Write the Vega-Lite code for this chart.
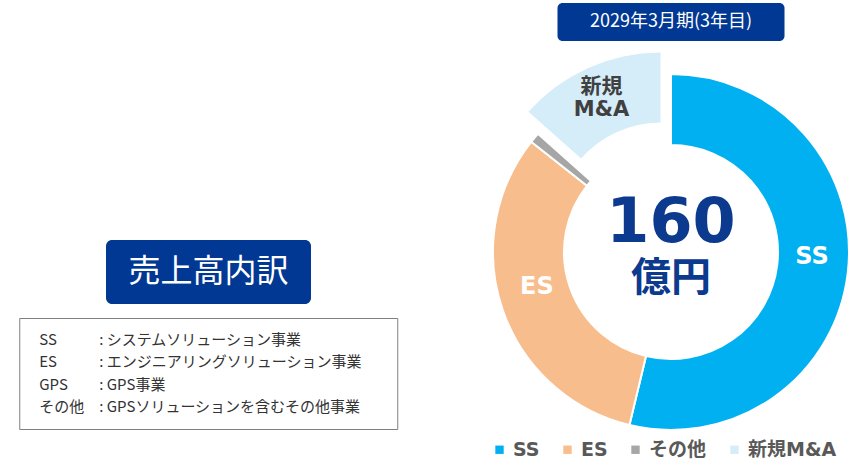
{
  "$schema": "https://vega.github.io/schema/vega-lite/v6.json",
  "background": "white",
  "padding": {"left": 18, "top": 3, "right": 0, "bottom": 0},
  "config": {"view": {"stroke": null}, "font": "Noto Sans CJK JP"},
  "spacing": 91,
  "resolve": {"scale": {"color": "independent"}, "legend": {"color": "independent"}},
  "hconcat": [
    {
      "spacing": 13,
      "center": true,
      "vconcat": [
        {
          "width": 1,
          "height": 224,
          "data": {"values": [{"t": ""}]},
          "mark": {"type": "text"},
          "encoding": {"text": {"field": "t"}}
        },
        {
          "width": 205,
          "height": 64,
          "view": {"fill": "#003893", "cornerRadius": 6, "stroke": null},
          "data": {"values": [{"t": "売上高内訳"}]},
          "mark": {"type": "text", "color": "white", "fontSize": 32, "font": "Noto Sans CJK JP"},
          "encoding": {"text": {"field": "t"}}
        },
        {
          "width": 378,
          "height": 111,
          "view": {"stroke": "#7f7f7f", "strokeWidth": 1},
          "data": {
            "values": [
              {"code": "SS", "desc": ":  システムソリューション事業"},
              {"code": "ES", "desc": ":  エンジニアリングソリューション事業"},
              {"code": "GPS", "desc": ":  GPS事業"},
              {"code": "その他", "desc": ":  GPSソリューションを含むその他事業"}
            ]
          },
          "transform": [{"fold": ["code", "desc"], "as": ["part", "txt"]}],
          "mark": {"type": "text", "align": "left", "fontSize": 15, "color": "#333333", "font": "Noto Sans CJK JP"},
          "encoding": {
            "x": {"field": "part", "type": "nominal", "axis": null, "scale": {"type": "point", "range": [20, 80], "padding": 0}},
            "y": {"field": "code", "type": "nominal", "sort": null, "axis": null, "scale": {"type": "point", "padding": 0.99}},
            "text": {"field": "txt"}
          }
        }
      ]
    },
    {
      "spacing": 26,
      "center": true,
      "bounds": "flush",
      "resolve": {"scale": {"color": "independent"}, "legend": {"color": "independent"}},
      "vconcat": [
        {
          "width": 227,
          "height": 38,
          "view": {"fill": "#003893", "cornerRadius": 5, "stroke": null},
          "data": {"values": [{"t": "2029年3月期(3年目)"}]},
          "mark": {"type": "text", "color": "white", "fontSize": 18, "font": "Noto Sans CJK JP"},
          "encoding": {"text": {"field": "t"}}
        },
        {
          "width": 362,
          "height": 370,
          "data": {
            "values": [
              {"cat": "SS", "value": 86, "label": "SS"},
              {"cat": "ES", "value": 51, "label": "ES"},
              {"cat": "その他", "value": 1.5, "label": ""},
              {"cat": "新規M&A", "value": 21.5, "label": "新規\nM&A"}
            ]
          },
          "layer": [
            {
              "transform": [
                {"stack": "value", "groupby": [], "as": ["v0", "v1"]},
                {"filter": "datum.cat !== '新規M&A'"}
              ],
              "mark": {"type": "arc", "radius": 178, "innerRadius": 107, "stroke": "white", "strokeWidth": 2},
              "encoding": {
                "theta": {"field": "v0", "type": "quantitative", "scale": {"domain": [0, 160]}},
                "theta2": {"field": "v1"},
                "color": {
                  "field": "cat",
                  "type": "nominal",
                  "scale": {"domain": ["SS", "ES", "その他", "新規M&A"], "range": ["#00b0f0", "#f8bd8c", "#a6a6a6", "#d5edf9"]},
                  "legend": {
                    "orient": "bottom",
                    "direction": "horizontal",
                    "title": null,
                    "symbolType": "square",
                    "symbolSize": 70,
                    "symbolStrokeWidth": 0,
                    "labelFont": "DejaVu Sans, Noto Sans CJK JP",
                    "labelFontSize": 19,
                    "labelFontWeight": "bold",
                    "labelColor": "#595959",
                    "columnPadding": 18,
                    "labelOffset": 4,
                    "offset": 3
                  }
                }
              }
            },
            {
              "transform": [
                {"stack": "value", "groupby": [], "as": ["v0", "v1"]},
                {"filter": "datum.cat === '新規M&A'"}
              ],
              "mark": {"type": "arc", "radius": 178, "innerRadius": 107, "stroke": "white", "strokeWidth": 1, "xOffset": -10, "yOffset": -22},
              "encoding": {
                "theta": {"field": "v0", "type": "quantitative"},
                "theta2": {"field": "v1"},
                "color": {"field": "cat", "type": "nominal"}
              }
            },
            {
              "transform": [{"stack": "value", "groupby": [], "as": ["v0", "v1"]}],
              "mark": {"type": "text", "radius": 142, "dy": -12, "fontSize": 24, "font": "DejaVu Sans", "fontWeight": "bold", "color": "white"},
              "encoding": {
                "theta": {"field": "value", "type": "quantitative", "stack": true},
                "order": {"field": "v0", "type": "quantitative"},
                "text": {"condition": {"test": "datum.cat === '新規M&A'", "value": ""}, "field": "label", "type": "nominal"}
              }
            },
            {
              "transform": [{"stack": "value", "groupby": [], "as": ["v0", "v1"]}],
              "mark": {"type": "text", "radius": 145, "xOffset": -10, "yOffset": -22, "dy": -11, "fontSize": 21, "font": "DejaVu Sans, Noto Sans CJK JP", "fontWeight": "bold", "color": "#404040", "lineBreak": "\n", "lineHeight": 23},
              "encoding": {
                "theta": {"field": "value", "type": "quantitative", "stack": true},
                "order": {"field": "v0", "type": "quantitative"},
                "text": {"condition": {"test": "datum.cat !== '新規M&A'", "value": ""}, "field": "label", "type": "nominal"}
              }
            },
            {
              "transform": [{"aggregate": [{"op": "sum", "field": "value", "as": "total"}]}],
              "mark": {"type": "text", "dy": -29, "fontSize": 62, "font": "DejaVu Sans", "fontWeight": "bold", "color": "#0b3a8e"},
              "encoding": {"text": {"field": "total", "type": "quantitative", "format": "d"}}
            },
            {
              "transform": [{"aggregate": [{"op": "sum", "field": "value", "as": "total"}]}],
              "mark": {"type": "text", "dy": 27, "fontSize": 40, "font": "Noto Sans CJK JP", "fontWeight": "bold", "color": "#0b3a8e"},
              "encoding": {"text": {"value": "億円"}}
            }
          ]
        }
      ]
    }
  ]
}
